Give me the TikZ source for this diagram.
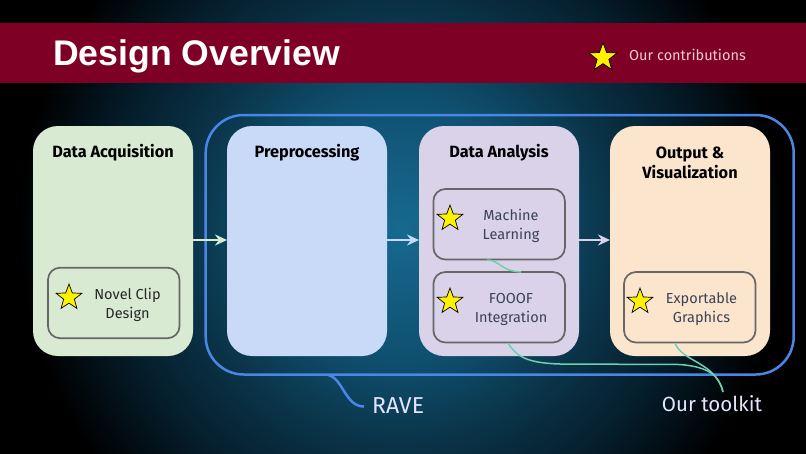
\documentclass[tikz,border=0pt]{standalone}
\usepackage{fontspec}
\usepackage{graphicx}
\setmainfont{Fira Sans}
\newfontfamily\titlefont{Liberation Sans}
\usetikzlibrary{shapes.geometric,arrows.meta,shadings}
\definecolor{glowa}{HTML}{17698F}
\definecolor{glowb}{HTML}{0F5070}
\definecolor{glowc}{HTML}{0A3347}
\definecolor{glowd}{HTML}{051E2C}
\pgfdeclareradialshading{bgglow}{\pgfpoint{0bp}{0bp}}{
  color(0bp)=(glowa);color(13bp)=(glowb);color(21.5bp)=(glowc);color(29bp)=(glowd);color(38bp)=(black);color(50bp)=(black)}
\definecolor{banner}{HTML}{7F0025}
\definecolor{ravec}{HTML}{4A86E8}
\definecolor{mint}{HTML}{6FCFAE}
\definecolor{greenb}{HTML}{D9EAD3}
\definecolor{blueb}{HTML}{C9DAF8}
\definecolor{purpb}{HTML}{D9D2E9}
\definecolor{orangeb}{HTML}{FCE5CD}
\definecolor{inner}{HTML}{666666}
\definecolor{slate}{HTML}{3A4256}
\definecolor{legendtext}{HTML}{F2C9D6}
\tikzset{
  x=1pt,y=-1pt,
  phase/.style={draw=none,rounded corners=25pt,minimum width=160pt,minimum height=230pt,inner sep=0pt,outer sep=0pt,anchor=north west},
  sub/.style={draw=inner,line width=1.7pt,rounded corners=12pt,minimum width=131.500pt,minimum height=70.500pt,inner sep=0pt,outer sep=0pt,anchor=north west},
  heading/.style={font=\fontsize{16.3}{20}\selectfont\bfseries,align=center,text=black,anchor=center},
  subtext/.style={font=\fontsize{14.5}{19}\selectfont,align=center,text=slate,anchor=center},
  mystar/.style={star,star points=5,star point ratio=2.4,fill=yellow,draw=black,line width=0.7pt,minimum size=27pt,inner sep=0pt,anchor=center},
  flow/.style={draw=#1,line width=2pt,-{Stealth[length=12pt,width=11pt,inset=4pt]}},
  leader/.style={draw=mint,line width=1.5pt},
}
\begin{document}
\begin{tikzpicture}
\useasboundingbox (0,0) rectangle (806,453);
\begin{scope}
\clip (0,0) rectangle (806,453);
\node[inner sep=0pt,outer sep=0pt,anchor=center] (glow) at (400,228) {\scalebox{10}{\pgfuseshading{bgglow}}};
\end{scope}
\fill[banner] (0,23) rectangle (806,83);
\node[font=\titlefont\fontsize{35.6}{40}\selectfont\bfseries,text=white,anchor=base west,inner sep=0pt] (title) at (53,65) {Design Overview};
\node[mystar,minimum size=29.500pt] (legendstar) at (603,57.500) {};
\node[font=\fontsize{14.5}{18}\selectfont,text=legendtext,anchor=west,inner sep=0pt] (legend) at (629,55) {Our contributions};

\node[draw=ravec,line width=2.5pt,rounded corners=38pt,minimum width=588pt,minimum height=259.500pt,inner sep=0pt,outer sep=0pt,anchor=north west] (rave) at (205.700,115) {};

\node[phase,fill=greenb] (acq) at (33,126) {};
\node[phase,fill=blueb] (pre) at (227,126) {};
\node[phase,fill=purpb] (ana) at (419,126) {};
\node[phase,fill=orangeb] (out) at (610,126) {};

\node[heading] (h1) at (113,152.500) {Data Acquisition};
\node[heading] (h2) at (307,152.500) {Preprocessing};
\node[heading] (h3) at (499,152.500) {Data Analysis};
\node[heading] (h4) at (690,162.500) {Output \&\\Visualization};

\node[sub] (clip) at (48,267.700) {};
\node[sub] (ml) at (433.400,189) {};
\node[sub] (fooof) at (433.400,272) {};
\node[sub] (exp) at (624,272) {};

\coordinate (mla) at (487,260);
\coordinate (mlb) at (521,272);
\coordinate (foa) at (508,343);
\coordinate (exa) at (675,343);
\coordinate (tk) at (723,392);
\coordinate (ra) at (328,375);
\coordinate (rb) at (364,406.500);

\draw[leader] (mla) .. controls (500,260) and (500,271) .. (mlb);
\draw[leader] (foa) .. controls (516,356) and (526,363) .. (560,364) -- (680,364.500) .. controls (710,367) and (719,376) .. (tk);
\draw[leader] (exa) .. controls (682,362) and (716,362) .. (tk);
\draw[draw=ravec,line width=2.500pt] (ra) .. controls (343,378) and (345,406.500) .. (rb);

\node[mystar] (s1) at (69,297.500) {};
\node[mystar] (s2) at (450,218.500) {};
\node[mystar] (s3) at (450,301.500) {};
\node[mystar] (s4) at (640,301.500) {};

\node[subtext,text=black!85] (t1) at (127.500,305) {Novel Clip\\Design};
\node[subtext] (t2) at (511,226) {Machine\\Learning};
\node[subtext] (t3) at (511,309) {FOOOF\\Integration};
\node[subtext] (t4) at (701.500,309) {Exportable\\Graphics};

\draw[flow=greenb] (acq.east |- 0,240) -- (pre.west |- 0,240);
\draw[flow=blueb] (pre.east |- 0,240) -- (ana.west |- 0,240);
\draw[flow=purpb] (ana.east |- 0,240) -- (out.west |- 0,240);

\node[font=\fontsize{23}{26}\selectfont,text=white!90!blue,anchor=west,inner sep=0pt] (ravel) at (372,406) {RAVE};
\node[font=\fontsize{20.500}{24}\selectfont,text=white!90!blue,anchor=center,inner sep=0pt] (tkl) at (712,403.500) {Our toolkit};
\end{tikzpicture}
\end{document}
